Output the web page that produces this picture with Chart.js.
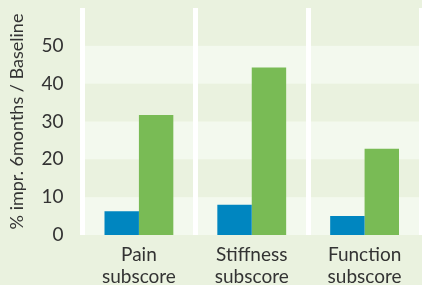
<!DOCTYPE html>
<html>
<head>
<meta charset="utf-8">
<script src="https://cdn.jsdelivr.net/npm/chart.js@4/dist/chart.umd.min.js"></script>
<style>
  html, body { margin: 0; padding: 0; background: #eaf2df; }
  #wrap { width: 422px; height: 285px; position: relative; }
</style>
</head>
<body>
<div id="wrap"><canvas id="c"></canvas></div>
<script>
const categories = [["Pain", "subscore"], ["Stiffness", "subscore"], ["Function", "subscore"]];
const seriesBlue = [6.3, 8.0, 5.0];
const seriesGreen = [31.7, 44.3, 22.8];
const yTicks = [0, 10, 20, 30, 40, 50];

const stripes = {
  id: 'stripes',
  beforeDraw(chart) {
    const { ctx, chartArea: a, scales: { y } } = chart;
    ctx.save();
    for (let v = 0; v < 60; v += 20) {
      const yb = y.getPixelForValue(v);
      const yt = y.getPixelForValue(v + 10);
      ctx.fillStyle = '#f3f9ee';
      ctx.fillRect(a.left, yt, a.right - a.left, yb - yt);
    }
    ctx.restore();
  }
};

const textFont = { family: 'Lato', size: 19, lineHeight: 1.15 };

new Chart(document.getElementById('c'), {
  type: 'bar',
  data: {
    labels: categories,
    datasets: [
      { data: seriesBlue, backgroundColor: '#0086c0', borderWidth: 0 },
      { data: seriesGreen, backgroundColor: '#79bb55', borderWidth: 0 }
    ]
  },
  plugins: [stripes],
  options: {
    responsive: true,
    maintainAspectRatio: false,
    animation: false,
    layout: { padding: { top: 8, right: 1, left: 0, bottom: 0 } },
    plugins: { legend: { display: false }, tooltip: { enabled: false } },
    datasets: { bar: { categoryPercentage: 0.61, barPercentage: 1.0 } },
    scales: {
      x: {
        offset: true,
        grid: { display: true, offset: true, color: '#ffffff', lineWidth: 5, drawTicks: false },
        border: { display: false },
        ticks: {
          color: '#333333',
          font: textFont,
          padding: 9,
          maxRotation: 0
        },
        afterFit(s) { s.height = 50; s.paddingLeft = 0; s.paddingRight = 0; }
      },
      y: {
        min: 0,
        max: 60,
        afterBuildTicks(s) { s.ticks = yTicks.map(v => ({ value: v })); },
        grid: { display: false },
        border: { display: false },
        ticks: {
          color: '#333333',
          font: { family: 'Lato', size: 19 },
          padding: 11
        },
        title: {
          display: true,
          text: '% impr. 6months / Baseline',
          color: '#333333',
          font: { family: 'Lato', size: 18, lineHeight: 1.2 },
          padding: { top: 6.5, bottom: 0 }
        },
        afterFit(s) { s.width = 82.5; s.paddingTop = 0; s.paddingBottom = 0; }
      }
    }
  }
});
</script>
</body>
</html>
